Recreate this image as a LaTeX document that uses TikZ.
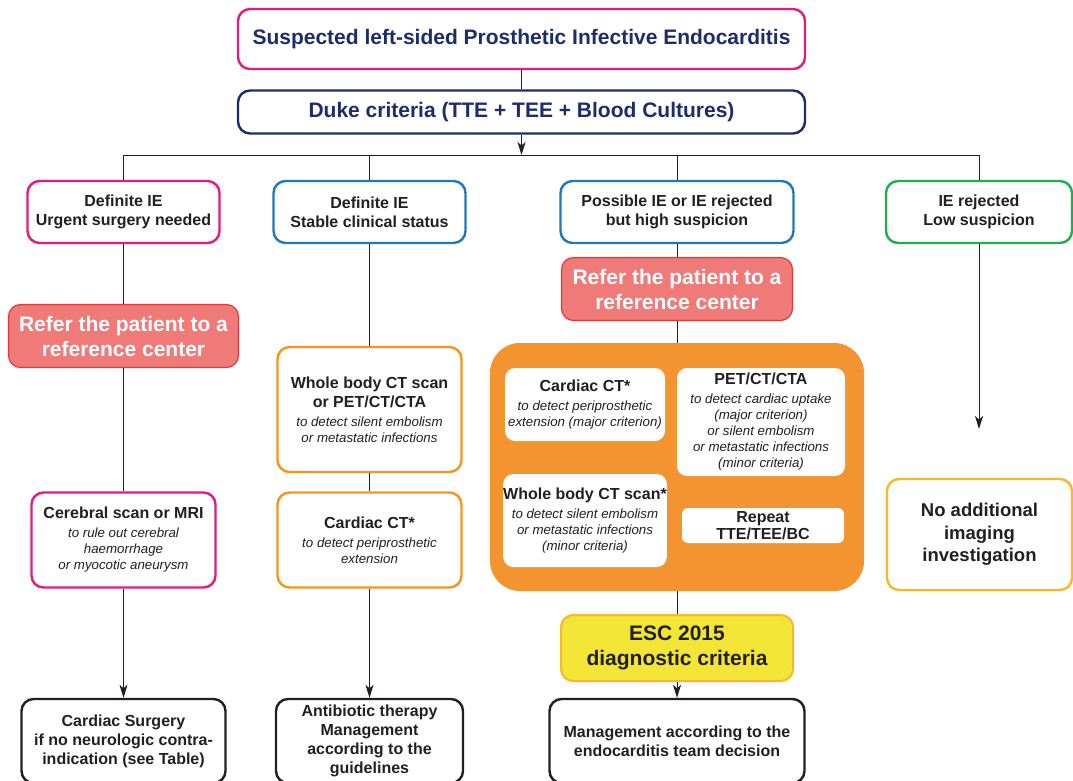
\documentclass[tikz,border=0pt]{standalone}
\usepackage{fontspec}
\setmainfont{Liberation Sans}
\usepackage{tikz}
\usetikzlibrary{arrows.meta, positioning}
\definecolor{ink}{HTML}{231F20}
\definecolor{navy}{HTML}{1C2D6B}
\definecolor{pinkline}{HTML}{E5197F}
\definecolor{blueline}{HTML}{1F78BE}
\definecolor{greenline}{HTML}{1DAE4E}
\definecolor{orangeline}{HTML}{F7941D}
\definecolor{orangefill}{HTML}{F39431}
\definecolor{salmonfill}{HTML}{EF7A78}
\definecolor{salmonline}{HTML}{E4373A}
\definecolor{yellowfill}{HTML}{F2E535}
\definecolor{yellowline}{HTML}{F9B72C}
\newcommand{\critnote}[1]{{\fontsize{13.3}{16}\selectfont\mdseries\itshape #1}}

\begin{document}
\begin{tikzpicture}[
        x=1pt, y=-1pt, >={Stealth[length=13pt,width=8pt,inset=3.5pt]},
        every node/.style={align=center, text=ink, inner sep=0pt},
        box/.style={draw, line width=2.4pt, rounded corners=12pt, fill=white},
        bigtext/.style={font=\fontsize{21}{25}\selectfont\bfseries},
        midtext/.style={font=\fontsize{16}{19}\selectfont\bfseries},
        cat/.style={box, midtext, minimum height=62pt},
        refer/.style={box, draw=salmonline, fill=salmonfill, line width=1.2pt, text=white,
            bigtext, minimum width=230pt, minimum height=63pt},
        exam/.style={box, draw=orangeline, midtext, minimum width=184pt},
        inner/.style={fill=white, rounded corners=10pt, midtext},
        final/.style={box, draw=ink, midtext, minimum height=84pt},
        link/.style={draw=ink, line width=0.9pt},
        ]
        \useasboundingbox (0,0) rectangle (1073,780);
        \clip (0,0) rectangle (1073,780);

        \node[box, draw=pinkline, text=navy, bigtext, minimum width=567pt, minimum height=60pt]
            (suspect) at (521.5,39) {Suspected left-sided Prosthetic Infective Endocarditis};
        \node[box, draw=navy, text=navy, bigtext, minimum width=567pt, minimum height=43pt]
            (duke) at (521.5,112) {Duke criteria (TTE + TEE + Blood Cultures)};

        \node[cat, draw=pinkline, minimum width=192pt]  (cat_1) at (123.5,212) {Definite IE\\Urgent surgery needed};
        \node[cat, draw=blueline, minimum width=192pt]  (cat_2) at (369.5,212) {Definite IE\\Stable clinical status};
        \node[cat, draw=blueline, minimum width=233pt]  (cat_3) at (677,212) {Possible IE or IE rejected\\but high suspicion};
        \node[cat, draw=greenline, minimum width=186pt] (cat_4) at (979,212) {IE rejected\\Low suspicion};

        \node[refer] (refer_1) at (123.5,336) {Refer the patient to a\\reference center};
        \node[box, draw=pinkline, midtext, minimum width=184pt, minimum height=95pt]
            (cerebral) at (123.5,540) {Cerebral scan or MRI\\\critnote{to rule out cerebral}\\[-3pt]
            \critnote{haemorrhage}\\[-3pt]\critnote{or myocotic aneurysm}};
        \node[final, minimum width=204pt] (surgery) at (123.5,741)
            {Cardiac Surgery\\if no neurologic contra-\\indication (see Table)};

        \node[exam, minimum height=125pt] (wholebody) at (369.5,409.5) {Whole body CT scan\\or PET/CT/CTA\\
            \critnote{to detect silent embolism}\\[-3pt]\critnote{or metastatic infections}};
        \node[exam, minimum height=95pt] (cardiacct) at (369.5,540)
            {Cardiac CT*\\\critnote{to detect periprosthetic}\\[-3pt]\critnote{extension}};
        \node[final, minimum width=187pt] (antibiotic) at (369.5,741)
            {Antibiotic therapy\\Management\\according to the\\guidelines};

        \node[refer, minimum width=231pt] (refer_3) at (677,289) {Refer the patient to a\\reference center};
        \node[fill=orangefill, rounded corners=30pt, minimum width=374pt, minimum height=248pt]
            (imaging) at (677,467) {};
        \node[inner, minimum width=160pt, minimum height=73pt] (ct_major) at (585,404.5)
            {Cardiac CT*\\\critnote{to detect periprosthetic}\\[-3pt]\critnote{extension (major criterion)}};
        \node[inner, minimum width=168pt, minimum height=108pt] (pet) at (761,422)
            {PET/CT/CTA\\\critnote{to detect cardiac uptake}\\[-3pt]\critnote{(major criterion)}\\[-3pt]
            \critnote{or silent embolism}\\[-3pt]\critnote{or metastatic infections}\\[-3pt]\critnote{(minor criteria)}};
        \node[inner, minimum width=162pt, minimum height=93pt] (ct_minor) at (585,520.5)
            {Whole body CT scan*\\\critnote{to detect silent embolism}\\[-3pt]
            \critnote{or metastatic infections}\\[-3pt]\critnote{(minor criteria)}};
        \node[inner, rounded corners=6pt, minimum width=162pt, minimum height=35pt] (repeat) at (763,525.5)
            {Repeat\\[-2pt]TTE/TEE/BC};
        \node[box, draw=yellowline, fill=yellowfill, bigtext, line width=2pt, minimum width=232pt, minimum height=66pt]
            (esc) at (677,648) {ESC 2015\\diagnostic criteria};
        \node[final, minimum width=255pt] (team) at (677,741)
            {Management according to the\\endocarditis team decision};

        \node[box, draw=yellowline, font=\fontsize{18.5}{22.5}\selectfont\bfseries,
            minimum width=185pt, minimum height=111pt] (noimaging) at (979.5,534.5)
            {No additional\\imaging\\investigation};

        \coordinate (split) at (521.5,155);
        \coordinate (stop_4) at (979,429);

        \draw[link] (suspect) -- (duke);
        \draw[link, ->] (duke) -- (split);
        \draw[link] (cat_1) -- (cat_1 |- split) -- (cat_4 |- split) -- (cat_4);
        \draw[link] (cat_2) -- (cat_2 |- split);
        \draw[link] (cat_3) -- (cat_3 |- split);

        \draw[link] (cat_1) -- (refer_1);
        \draw[link] (refer_1) -- (cerebral);
        \draw[link, ->] (cerebral) -- (surgery);

        \draw[link] (cat_2) -- (wholebody);
        \draw[link] (wholebody) -- (cardiacct);
        \draw[link, ->] (cardiacct) -- (antibiotic);

        \draw[link] (cat_3) -- (refer_3);
        \draw[link] (refer_3) -- (imaging);
        \draw[link] (imaging) -- (esc);
        \draw[link, ->] (esc) -- (team);

        \draw[link, ->] (cat_4) -- (stop_4);
\end{tikzpicture}
\end{document}
